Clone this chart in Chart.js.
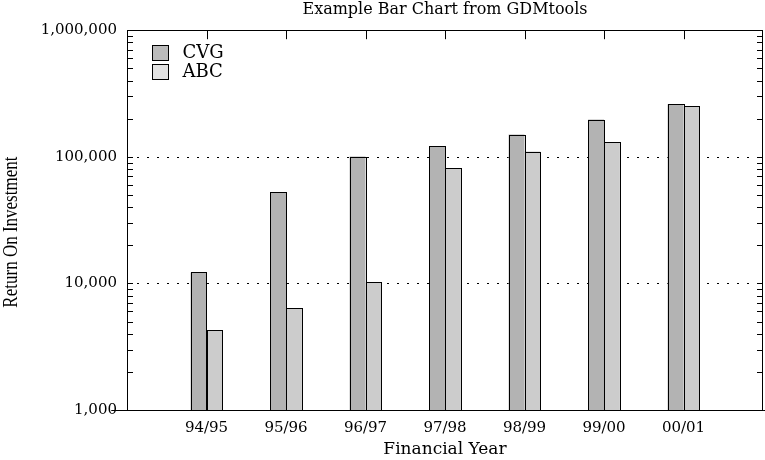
<!DOCTYPE html>
<html>
<head>
<meta charset="utf-8">
<script src="https://cdn.jsdelivr.net/npm/chart.js@4/dist/chart.umd.min.js"></script>
<style>
  html, body { margin: 0; padding: 0; background: #fff; }
  #wrap { width: 765px; height: 460px; }
</style>
</head>
<body>
<div id="wrap"><canvas id="roiChart"></canvas></div>
<script>
'use strict';

// ── Data ─────────────────────────────────────────
const years    = ['94/95', '95/96', '96/97', '97/98', '98/99', '99/00', '00/01'];
const cvgVals  = [12200, 52300, 100500, 121000, 150000, 197000, 260000];
const abcVals  = [4260, 6350, 10200, 81000, 110000, 130500, 251000];
const yLabels  = [1000, 10000, 100000, 1000000];
const yTitle   = 'Return On Investment';

// empty slot at each end so the bars sit at 1..7 of 0..8
const slots = [''].concat(years, ['']);
const pad   = arr => [null].concat(arr, [null]);

const wide  = "'DejaVu Serif', serif";
const times = "'Liberation Serif', 'Times New Roman', serif";
Chart.defaults.font.family = wide;
Chart.defaults.font.size   = 15;
Chart.defaults.color       = '#000';

const legendSwatch = ['#bbbbbb', '#e2e2e2'];

// frame, inward ticks, dotted decade lines, crisp bar outlines, legend
const framePlugin = {
  id: 'frame',
  beforeDatasetsDraw(chart) {
    const { ctx, chartArea: a, scales: { y } } = chart;
    ctx.save();
    ctx.strokeStyle = '#000';
    ctx.lineWidth = 1;
    ctx.setLineDash([2, 8]);
    yLabels.slice(1, -1).forEach(v => {
      const py = Math.round(y.getPixelForValue(v)) + 0.5;
      ctx.beginPath(); ctx.moveTo(a.left, py); ctx.lineTo(a.right, py); ctx.stroke();
    });
    ctx.restore();
  },
  afterDatasetsDraw(chart) {
    const { ctx } = chart;
    ctx.save();
    ctx.strokeStyle = '#000';
    ctx.lineWidth = 1;
    chart.data.datasets.forEach((ds, i) => {
      chart.getDatasetMeta(i).data.forEach(bar => {
        const p = bar.getProps(['x', 'y', 'base', 'width'], true);
        if (!isFinite(p.y) || !isFinite(p.base) || !isFinite(p.x)) return;
        const l = Math.round(p.x - p.width / 2) + 0.5;
        const r = Math.round(p.x + p.width / 2) + 0.5;
        const t = Math.round(p.y) + 0.5;
        const b = Math.round(p.base) + 0.5;
        ctx.strokeRect(l, t, r - l, b - t);
      });
    });
    ctx.restore();
  },
  afterDraw(chart) {
    const { ctx, chartArea: a, scales: { x, y } } = chart;
    ctx.save();
    ctx.strokeStyle = '#000';
    ctx.lineWidth = 1;
    ctx.beginPath();
    y.ticks.forEach(t => {
      const py = Math.round(y.getPixelForValue(t.value)) + 0.5;
      ctx.moveTo(a.left, py);  ctx.lineTo(a.left + 6, py);
      ctx.moveTo(a.right, py); ctx.lineTo(a.right - 6, py);
    });
    years.forEach((_, i) => {
      const px = Math.round(x.getPixelForTick(i + 1)) + 0.5;
      ctx.moveTo(px, a.top); ctx.lineTo(px, a.top + 9);
    });
    ctx.stroke();
    ctx.strokeRect(Math.round(a.left) + 0.5, Math.round(a.top) + 0.5,
                   Math.round(a.right - a.left) - 1, Math.round(a.bottom - a.top));

    // legend
    ctx.font = '18px ' + wide;
    ctx.textBaseline = 'middle';
    chart.data.datasets.forEach((ds, i) => {
      const bx = Math.round(a.left) + 25.5;
      const by = Math.round(a.top) + 15.5 + i * 19;
      ctx.fillStyle = legendSwatch[i];
      ctx.fillRect(bx, by, 16, 15);
      ctx.strokeRect(bx, by, 16, 15);
      ctx.fillStyle = '#000';
      ctx.fillText(ds.label, bx + 30, by + 8);
    });

    // rotated y title, sitting a little below the plot's middle like the original
    ctx.translate(11, (a.top + a.bottom) / 2 + 12);
    ctx.rotate(-Math.PI / 2);
    ctx.scale(1, 1.25);
    ctx.font = '17px ' + times;
    ctx.textAlign = 'center';
    ctx.textBaseline = 'middle';
    ctx.fillStyle = '#000';
    ctx.fillText(yTitle, 0, 0);
    ctx.restore();
  }
};

new Chart(document.getElementById('roiChart').getContext('2d'), {
  type: 'bar',
  data: {
    labels: slots,
    datasets: [
      { label: 'CVG', data: pad(cvgVals), backgroundColor: '#b3b3b3', borderWidth: 0 },
      { label: 'ABC', data: pad(abcVals), backgroundColor: '#cccccc', borderWidth: 0 }
    ]
  },
  options: {
    responsive: true, maintainAspectRatio: false, animation: false,
    devicePixelRatio: 1,
    layout: { padding: { left: 0, right: 2, top: 0, bottom: 0 } },
    datasets: { bar: { categoryPercentage: 0.4, barPercentage: 1.0 } },
    plugins: {
      title: {
        display: true, text: 'Example Bar Chart from GDMtools', fullSize: false,
        color: '#000', font: { size: 16, weight: 'normal' },
        padding: { top: 0, bottom: 11 }
      },
      legend: { display: false },
      tooltip: { enabled: false }
    },
    scales: {
      x: {
        type: 'category', offset: false,
        grid: { display: false, drawTicks: false },
        border: { display: false },
        ticks: { autoSkip: false, maxRotation: 0, padding: 9, color: '#000' },
        title: { display: true, text: 'Financial Year', color: '#000',
                 font: { size: 17 }, padding: { top: 0, bottom: 0 } },
        afterFit: s => { s.height = 50; s.paddingLeft = 0; s.paddingRight = 0; }
      },
      y: {
        type: 'logarithmic', min: 1000, max: 1000000,
        grid: { display: false, drawTicks: false },
        border: { display: false },
        afterBuildTicks: s => {
          s.ticks = s.ticks.filter(t => {
            const sig = t.value / Math.pow(10, Math.floor(Math.log10(t.value) + 1e-9));
            return Math.abs(sig - Math.round(sig)) < 1e-6;
          });
        },
        ticks: {
          autoSkip: false, padding: 10, color: '#000',
          callback: v => yLabels.includes(v) ? v.toLocaleString('en-US') : ''
        },
        afterFit: s => { s.width = 127; }
      }
    }
  },
  plugins: [framePlugin]
});
</script>
</body>
</html>
